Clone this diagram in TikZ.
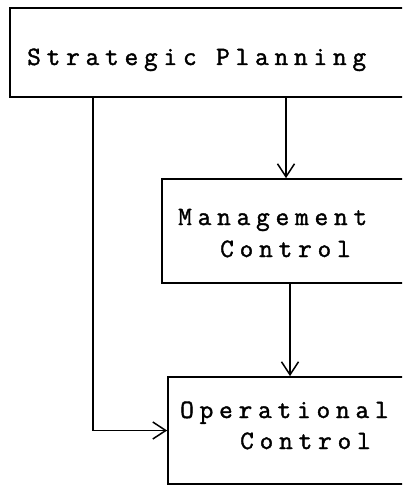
\documentclass[tikz,border=0pt]{standalone}
\usepackage{fontspec}
\newfontfamily\typer[LetterSpace=22,FakeBold=1.5]{Latin Modern Mono}
\usetikzlibrary{arrows.meta}
\tikzset{
  box/.style={draw, line width=1.7pt, rectangle, inner sep=0pt},
  lbl/.style={anchor=base west, inner sep=0pt, font=\typer\fontsize{26.5}{30}\selectfont},
  conn/.style={line width=1.5pt},
  arr/.style={conn, -{Straight Barb[length=13pt,width=17pt,line width=1.5pt]}}
}
\begin{document}
\begin{tikzpicture}[x=1pt,y=-1pt]
  \clip (0,0) rectangle (402,486);
  \fill[white] (0,0) rectangle (402,486);
  \node[box, minimum width=400pt, minimum height=89pt] (sp) at (210,52.5) {};
  \node[box, minimum width=248pt, minimum height=104pt] (mc) at (286,231) {};
  \node[box, minimum width=242pt, minimum height=107pt] (oc) at (289,430.5) {};
  \node[lbl] (t1) at (27,65) {Strategic Planning};
  \node[lbl] (t2) at (178,225) {Management};
  \node[lbl] (t3) at (220,257) {Control};
  \node[lbl] (t4) at (180,418) {Operational};
  \node[lbl] (t5) at (240,449) {Control};
  \coordinate (a1) at (286,0);
  \coordinate (a2) at (290,0);
  \coordinate (l) at (93,0);
  \draw[arr] (sp.south -| a1) -- (mc.north -| a1);
  \draw[arr] (mc.south -| a2) -- (oc.north -| a2);
  \draw[arr] (sp.south -| l) |- (oc.west);
\end{tikzpicture}
\end{document}
